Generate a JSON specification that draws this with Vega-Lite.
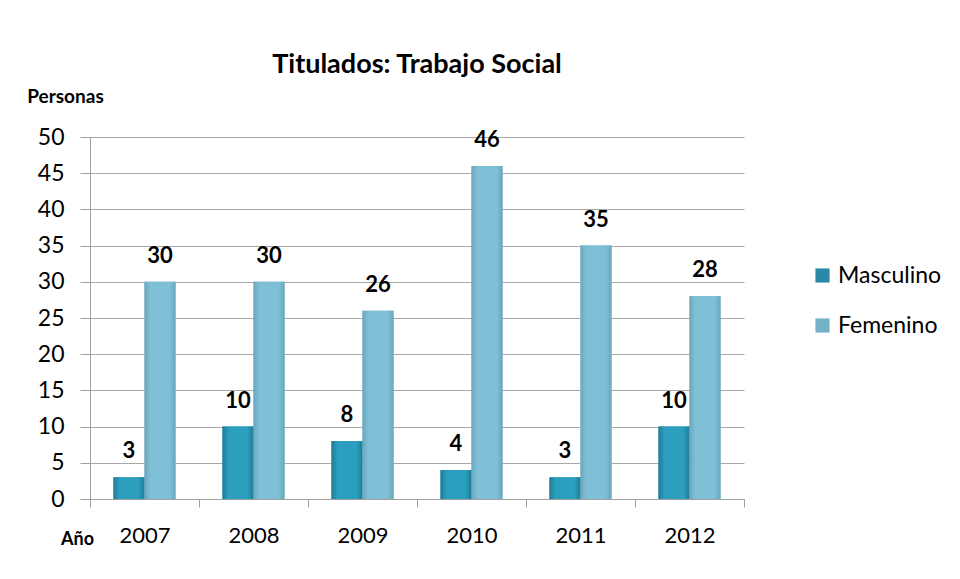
{
  "$schema": "https://vega.github.io/schema/vega-lite/v6.json",
  "width": 654,
  "height": 362,
  "autosize": "none",
  "padding": {"left": 90, "top": 137, "right": 216, "bottom": 80},
  "background": "white",
  "config": {
    "font": "Lato",
    "view": {"stroke": null},
    "axis": {"labelFont": "Lato", "titleFont": "Lato"}
  },
  "title": {
    "text": "Titulados: Trabajo Social",
    "font": "Lato",
    "fontSize": 27,
    "fontWeight": "bold",
    "color": "black",
    "anchor": "middle",
    "frame": "group",
    "offset": 8
  },
  "data": {
    "values": [
      {"anio": "2007", "sexo": "Masculino", "valor": 3},
      {"anio": "2007", "sexo": "Femenino", "valor": 30},
      {"anio": "2008", "sexo": "Masculino", "valor": 10},
      {"anio": "2008", "sexo": "Femenino", "valor": 30},
      {"anio": "2009", "sexo": "Masculino", "valor": 8},
      {"anio": "2009", "sexo": "Femenino", "valor": 26},
      {"anio": "2010", "sexo": "Masculino", "valor": 4},
      {"anio": "2010", "sexo": "Femenino", "valor": 46},
      {"anio": "2011", "sexo": "Masculino", "valor": 3},
      {"anio": "2011", "sexo": "Femenino", "valor": 35},
      {"anio": "2012", "sexo": "Masculino", "valor": 10},
      {"anio": "2012", "sexo": "Femenino", "valor": 28}
    ]
  },
  "encoding": {
    "x": {
      "field": "anio",
      "type": "nominal",
      "scale": {"paddingInner": 0, "paddingOuter": 0},
      "axis": {
        "title": "Año",
        "titleFontSize": 18,
        "titleFontWeight": "bold",
        "titleColor": "black",
        "titleX": -13,
        "titleY": 40,
        "titleAlign": "center",
        "titleBaseline": "middle",
        "labelAngle": 0,
        "labelFontSize": 22,
        "labelColor": "black",
        "labelBaseline": "middle",
        "labelPadding": 28,
        "tickBand": "extent",
        "tickSize": 8,
        "tickColor": "#a0a0a0",
        "domainColor": "#a0a0a0",
        "grid": false
      }
    },
    "xOffset": {
      "field": "sexo",
      "type": "nominal",
      "sort": ["Masculino", "Femenino"],
      "scale": {"paddingInner": 0, "paddingOuter": 0.758}
    },
    "y": {
      "field": "valor",
      "type": "quantitative",
      "scale": {"domain": [0, 50], "nice": false},
      "axis": {
        "title": "Personas",
        "titleAngle": 0,
        "titleFontSize": 19,
        "titleFontWeight": "bold",
        "titleColor": "black",
        "titleX": -25,
        "titleY": -41,
        "titleAlign": "center",
        "titleBaseline": "middle",
        "values": [0, 5, 10, 15, 20, 25, 30, 35, 40, 45, 50],
        "labelFontSize": 23,
        "labelColor": "black",
        "labelPadding": 16,
        "tickSize": 10,
        "tickColor": "#a0a0a0",
        "domainColor": "#a0a0a0",
        "gridColor": "#a8a8a8"
      }
    }
  },
  "layer": [
    {
      "mark": {"type": "bar"},
      "encoding": {
        "color": {
          "field": "sexo",
          "type": "nominal",
          "sort": ["Masculino", "Femenino"],
          "scale": {"domain": ["Masculino", "Femenino"], "range": ["#2a8aa6", "#74b2c8"]},
          "legend": {
            "title": null,
            "orient": "none",
            "legendX": 721,
            "legendY": 127,
            "symbolType": "square",
            "symbolSize": 200,
            "symbolStrokeWidth": 0,
            "labelFontSize": 23,
            "labelFont": "Lato",
            "labelColor": "black",
            "labelOffset": 4,
            "rowPadding": 26
          }
        }
      }
    },
    {
      "transform": [{"filter": "datum.sexo === 'Masculino'"}],
      "mark": {
        "type": "bar",
        "fill": {
          "gradient": "linear",
          "x1": 0, "y1": 0, "x2": 1, "y2": 0,
          "stops": [
            {"offset": 0, "color": "#1f7c97"},
            {"offset": 0.2, "color": "#2b9fbd"},
            {"offset": 0.8, "color": "#2b9fbd"},
            {"offset": 1, "color": "#1f7c97"}
          ]
        }
      }
    },
    {
      "transform": [{"filter": "datum.sexo === 'Femenino'"}],
      "mark": {
        "type": "bar",
        "fill": {
          "gradient": "linear",
          "x1": 0, "y1": 0, "x2": 1, "y2": 0,
          "stops": [
            {"offset": 0, "color": "#6aa7bd"},
            {"offset": 0.2, "color": "#80c0d6"},
            {"offset": 0.8, "color": "#80c0d6"},
            {"offset": 1, "color": "#6aa7bd"}
          ]
        }
      }
    },
    {
      "mark": {
        "type": "text",
        "font": "Lato",
        "fontSize": 22,
        "fontWeight": "bold",
        "color": "black",
        "baseline": "alphabetic",
        "dy": -19
      },
      "encoding": {
        "text": {"field": "valor", "type": "quantitative"}
      }
    }
  ]
}
